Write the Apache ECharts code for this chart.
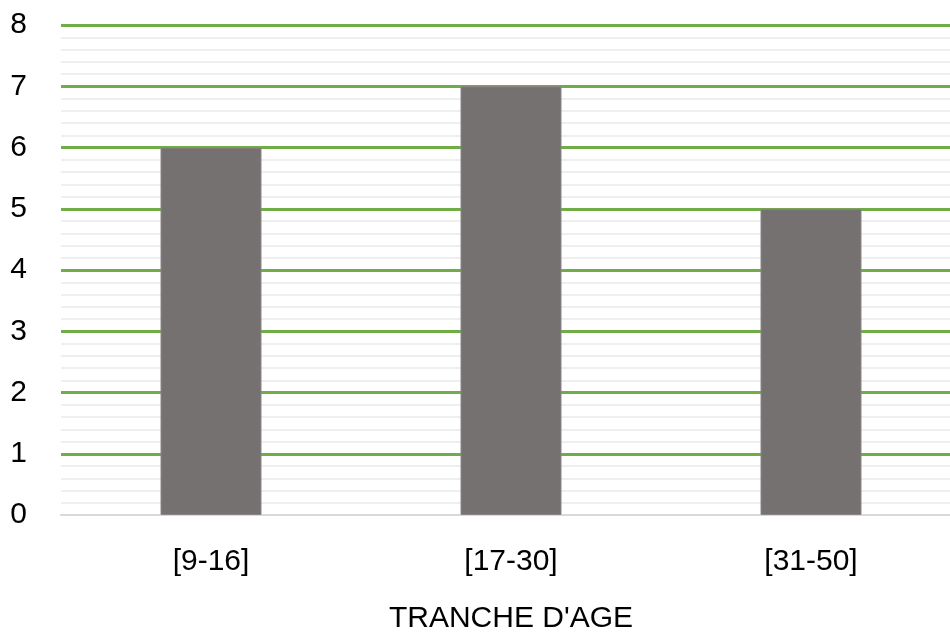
<!DOCTYPE html>
<html><head><meta charset="utf-8">
<script src="https://cdn.jsdelivr.net/npm/echarts@6/dist/echarts.min.js"></script>
<style>html,body{margin:0;padding:0;background:#fff}#c{width:950px;height:632px}</style>
</head><body><div id="c"></div>
<script>
const categories = ['[9-16]', '[17-30]', '[31-50]'];
const values = [6, 7, 5];
const axisTitle = "TRANCHE D'AGE";

const gridColors = ['rgba(0,0,0,0)', '#70AD47', '#70AD47', '#70AD47', '#70AD47', '#70AD47', '#70AD47', '#70AD47', '#70AD47'];

const chart = echarts.init(document.getElementById('c'));
chart.setOption({
  animation: false,
  grid: { left: 61, right: -11, top: 25, bottom: 117, containLabel: false, outerBoundsMode: 'none' },
  xAxis: {
    type: 'category', data: categories,
    name: axisTitle, nameLocation: 'middle', nameGap: 104,
    nameTextStyle: { fontFamily: 'Liberation Sans', fontSize: 30, color: '#000', verticalAlign: 'middle' },
    axisLine: { show: true, lineStyle: { color: '#D9D9D9', width: 2 } },
    axisTick: { show: false },
    axisLabel: { fontFamily: 'Liberation Sans', fontSize: 30, color: '#000', margin: 32 }
  },
  yAxis: {
    type: 'value', min: 0, max: 8, interval: 1,
    axisLine: { show: false }, axisTick: { show: false },
    axisLabel: { fontFamily: 'Liberation Sans', fontSize: 30, color: '#000', margin: 34 },
    splitLine: { show: true, lineStyle: { color: gridColors, width: 3 } },
    minorTick: { show: false, splitNumber: 5 },
    minorSplitLine: { show: true, lineStyle: { color: '#EFEFEF', width: 2 } }
  },
  series: [{
    type: 'bar', data: values, barWidth: 101,
    itemStyle: { color: '#767171', borderColor: '#8a8686', borderWidth: 1 },
    z: 3
  }]
});
</script></body></html>
